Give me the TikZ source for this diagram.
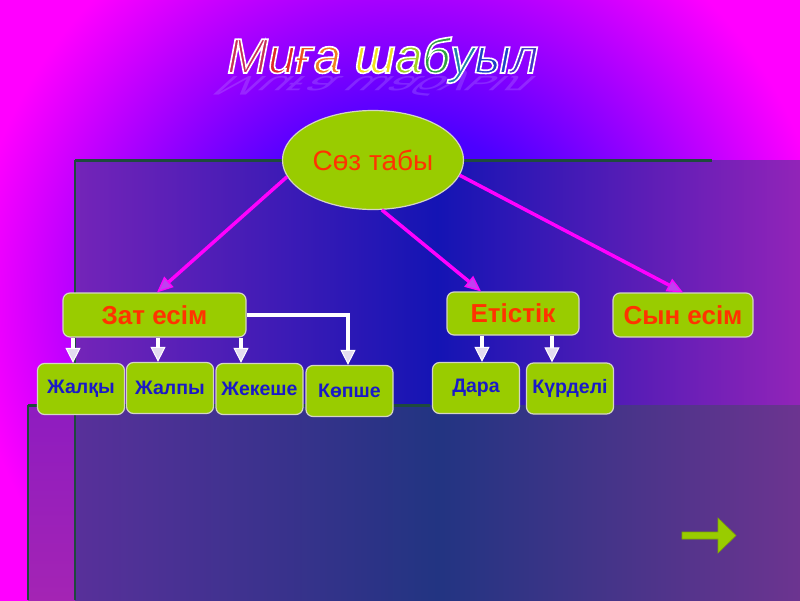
\documentclass[tikz,border=0pt]{standalone}
\usepackage{fontspec}
\setmainfont{Liberation Sans}
\usetikzlibrary{arrows.meta,shapes.geometric,calc}
\definecolor{leaf}{HTML}{99CC00}
\definecolor{leafdark}{HTML}{7FA800}
\definecolor{boxline}{HTML}{D4D4C4}
\definecolor{redt}{HTML}{FF3300}
\definecolor{bluet}{HTML}{1A1AC8}
\definecolor{mag}{HTML}{FF00FF}
\definecolor{magl}{HTML}{C040F0}
\definecolor{wtip}{HTML}{E4DCF0}
\definecolor{bgA}{HTML}{2800E8}
\definecolor{bgB}{HTML}{4C00FF}
\definecolor{bgC}{HTML}{FF00FF}
\definecolor{pL}{HTML}{7424B8}
\definecolor{pM}{HTML}{1414B4}
\definecolor{pR}{HTML}{9224B8}
\definecolor{bL}{HTML}{58309A}
\definecolor{bM}{HTML}{223482}
\definecolor{bR}{HTML}{6C3490}
\definecolor{sT}{HTML}{8E1CC0}
\definecolor{sB}{HTML}{A424B4}
\definecolor{gline}{HTML}{1E4A3E}
\definecolor{shadowc}{HTML}{D0C0FF}
\definecolor{tA}{HTML}{C8305A}
\definecolor{tB}{HTML}{E02828}
\definecolor{tC}{HTML}{F05020}
\definecolor{tD}{HTML}{F08020}
\definecolor{tE}{HTML}{F0E020}
\definecolor{tF}{HTML}{A0D020}
\definecolor{tG}{HTML}{30A040}
\definecolor{tH}{HTML}{2080A8}
\definecolor{tI}{HTML}{2040C8}
\definecolor{tJ}{HTML}{4830C8}
\pgfdeclareradialshading{bgrad}{\pgfpoint{0bp}{0bp}}{color(0bp)=(bgA); color(8.5bp)=(bgB); color(21.5bp)=(bgC); color(50bp)=(bgC)}
\newcommand\ttlL[2]{\textcolor{#1}{\special{pdf:literal direct 1 1 1 RG}#2}}
\tikzset{
  titlefont/.style={font=\fontsize{49}{54}\selectfont\itshape, inner sep=0pt, anchor=base west},
  bigbox/.style={draw=boxline, line width=1.2pt, fill=leaf, rounded corners=7pt, text=redt,
    font=\fontsize{26}{30}\selectfont\bfseries, inner sep=0pt},
  smallbox/.style={draw=boxline, line width=1.2pt, fill=leaf, rounded corners=7pt, text=bluet,
    font=\fontsize{19.5}{23}\selectfont\bfseries, inner sep=0pt, minimum width=87pt, minimum height=51pt},
  warrow/.style={draw=white, line width=4pt, -{Triangle[length=15pt,width=15pt,line width=1pt,fill=wtip]}},
  marrow/.style={draw=mag, line width=3.5pt, -{Triangle[length=16pt,width=14pt,line width=1.2pt,fill=magl]}},
  panelline/.style={draw=gline, line width=3pt}
}
\begin{document}
\begin{tikzpicture}[x=1pt,y=-1pt]
\useasboundingbox (0,0) rectangle (800,600);
% background
\begin{scope}
  \clip (0,0) rectangle (800,600);
  \shade[shading=bgrad] (-100,-200) rectangle (900,800);
\end{scope}
\shade[left color=pL, right color=pR, middle color=pM] (75,160) rectangle (800,405);
\shade[top color=sT, bottom color=sB] (28,405) rectangle (75,600);
\shade[left color=bL, right color=bR, middle color=bM] (75,405) rectangle (800,600);
\draw[panelline] (75,160) -- (712,160);
\draw[panelline, line width=2.5pt] (75,160) -- (75,600);
\draw[panelline, line width=2.5pt] (28,405) -- (28,600);
\draw[panelline] (28,405) -- (430,405);
% title reflection
\begin{scope}[cm={1,0,-0.8,-0.55,(232,76)}]
  \node[transform shape, titlefont, text=shadowc, opacity=0.2] (titleshadow) at (0,0) {Миға шабуыл};
\end{scope}
% title
\node[titlefont] (title) at (227,73) {\special{pdf:literal direct 2 Tr 1.6 w}\ttlL{tA}{М}\ttlL{tB}{и}\ttlL{tC}{ғ}\ttlL{tD}{а} \ttlL{tE}{ш}\ttlL{tF}{а}\ttlL{tG}{б}\ttlL{tH}{у}\ttlL{tI}{ы}\ttlL{tJ}{л}\special{pdf:literal direct 0 Tr}};
% nodes
\node[ellipse, draw=boxline, line width=1.2pt, fill=leaf, minimum width=181pt, minimum height=99pt,
  inner sep=0pt, text=redt, font=\fontsize{28}{32}\selectfont] (soz) at (373,160) {Сөз табы};
\node[bigbox, minimum width=183pt, minimum height=44pt] (zat) at (154.5,315) {Зат есім};
\node[bigbox, minimum width=132pt, minimum height=43pt] (ete) at (513,313.5) {Етістік};
\node[bigbox, minimum width=140pt, minimum height=44pt] (syn) at (683,315) {Сын есім};
\node[smallbox] (jalky) at (81,389) {Жалқы};
\node[smallbox] (jalpy) at (170,388) {Жалпы};
\node[smallbox] (jekeshe) at (259.5,389) {Жекеше};
\node[smallbox] (kopshe) at (349.5,391) {Көпше};
\node[smallbox] (dara) at (476,388) {\raisebox{3pt}{Дара}};
\node[smallbox] (kurdeli) at (570,388.5) {Күрделі};
% connectors
\draw[marrow] (soz.191) -- ([xshift=2.5pt]zat.north);
\draw[marrow] (soz.280) -- ([xshift=-32pt]ete.north);
\draw[marrow] (soz.350) -- (syn.north);
\draw[warrow] ([xshift=-8pt]jalky.north |- zat.south) -- ([xshift=-8pt]jalky.north);
\draw[warrow] ([xshift=-12pt]jalpy.north |- zat.south) -- ([xshift=-12pt]jalpy.north);
\draw[warrow] ([xshift=-18.5pt]jekeshe.north |- zat.south) -- ([xshift=-18.5pt]jekeshe.north);
\draw[warrow] (zat.east) -| ([xshift=-1.5pt]kopshe.north);
\draw[warrow] ([xshift=6pt]dara.north |- ete.south) -- ([xshift=6pt]dara.north);
\draw[warrow] ([xshift=-18pt]kurdeli.north |- ete.south) -- ([xshift=-18pt]kurdeli.north);
% next-slide arrow
\fill[leaf, draw=leafdark, line width=0.6pt] (682,532) -- (718,532) -- (718,518) -- (736,535.5) -- (718,553) -- (718,539) -- (682,539) -- cycle;
\end{tikzpicture}
\end{document}
